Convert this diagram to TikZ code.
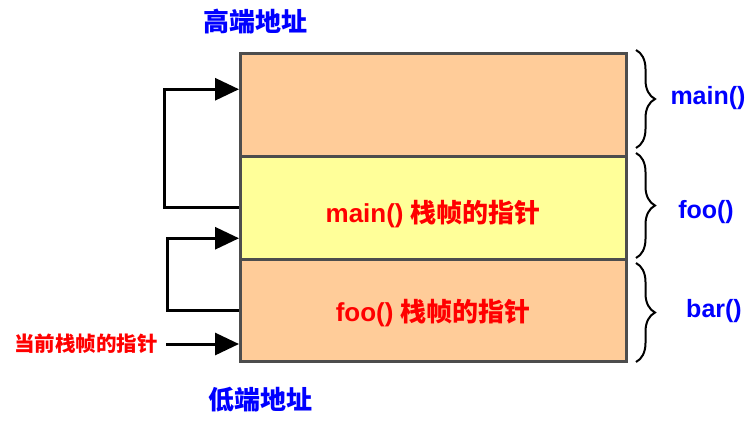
\documentclass[tikz,border=0pt]{standalone}
\usepackage{fontspec}
\setmainfont{Liberation Sans}
\newfontfamily\cjk{Noto Sans CJK SC}
\usepackage{xcolor}
\definecolor{colorFrameOuter}{HTML}{FFCC99}
\definecolor{colorFrameInner}{HTML}{FFFF99}
\definecolor{colorBorder}{HTML}{4D4D4D}
\colorlet{colorAddress}{blue}
\colorlet{colorPointer}{red}
\usetikzlibrary{arrows.meta, positioning, decorations.pathreplacing}

\begin{document}
\begin{tikzpicture}[x=1pt, y=-1pt, >={Triangle[length=24pt,width=22pt]},
  every node/.style={font=\fontsize{25}{30}\selectfont\bfseries},
  frame/.style={draw=colorBorder, line width=2.5pt, minimum width=386pt, inner sep=0pt, anchor=north west},
  frametext/.style={text=colorPointer, font=\fontsize{26}{30}\selectfont\bfseries, yshift=-6pt},
  ptr/.style={->, line width=3pt},
  fnbrace/.style={decorate, decoration={brace, amplitude=19pt}, line width=2pt}]
\useasboundingbox (0,0) rectangle (754,421);
\node[frame, fill=colorFrameOuter, minimum height=103pt] (frameMain) at (239,52) {};
\node[frame, fill=colorFrameInner, minimum height=103pt] (frameFoo) at (239,155) {};
\node[frame, fill=colorFrameOuter, minimum height=102pt] (frameBar) at (239,258) {};
\node[frametext] (fooText) at (frameFoo) {main() {\cjk 栈帧的指针}};
\node[frametext, yshift=3pt] (barText) at (frameBar) {foo() {\cjk 栈帧的指针}};
\node[text=colorAddress, font=\fontsize{26}{30}\selectfont\bfseries] (high) at (255,22) {\cjk 高端地址};
\node[text=colorAddress, font=\fontsize{26}{30}\selectfont\bfseries] (low) at (260,400) {\cjk 低端地址};
\node[text=colorPointer, font=\fontsize{20.5}{24}\selectfont\bfseries] (cur) at (86,344) {\cjk 当前栈帧的指针};
\draw[ptr] (frameFoo.west) -- ++(-75,0) |- ([yshift=15.5pt]frameMain.west);
\draw[ptr] (frameBar.west) -- ++(-72,0) |- ([yshift=-30.5pt]frameFoo.west);
\draw[ptr] ([xshift=5pt]cur.east) -- (cur.east -| frameBar.west);
% braces on the right
\coordinate (mainTop) at (636,50);
\coordinate (mainBot) at (636,148);
\coordinate (fooTop) at (636,153);
\coordinate (fooBot) at (636,258);
\coordinate (barTop) at (636,263);
\coordinate (barBot) at (636,362);
\draw[fnbrace] (mainTop) -- (mainBot);
\draw[fnbrace] (fooTop) -- (fooBot);
\draw[fnbrace] (barTop) -- (barBot);
\node[text=colorAddress] (fnMain) at (708,98) {main()};
\node[text=colorAddress] (fnFoo) at (706,212) {foo()};
\node[text=colorAddress] (fnBar) at (714,311) {bar()};
\end{tikzpicture}
\end{document}
